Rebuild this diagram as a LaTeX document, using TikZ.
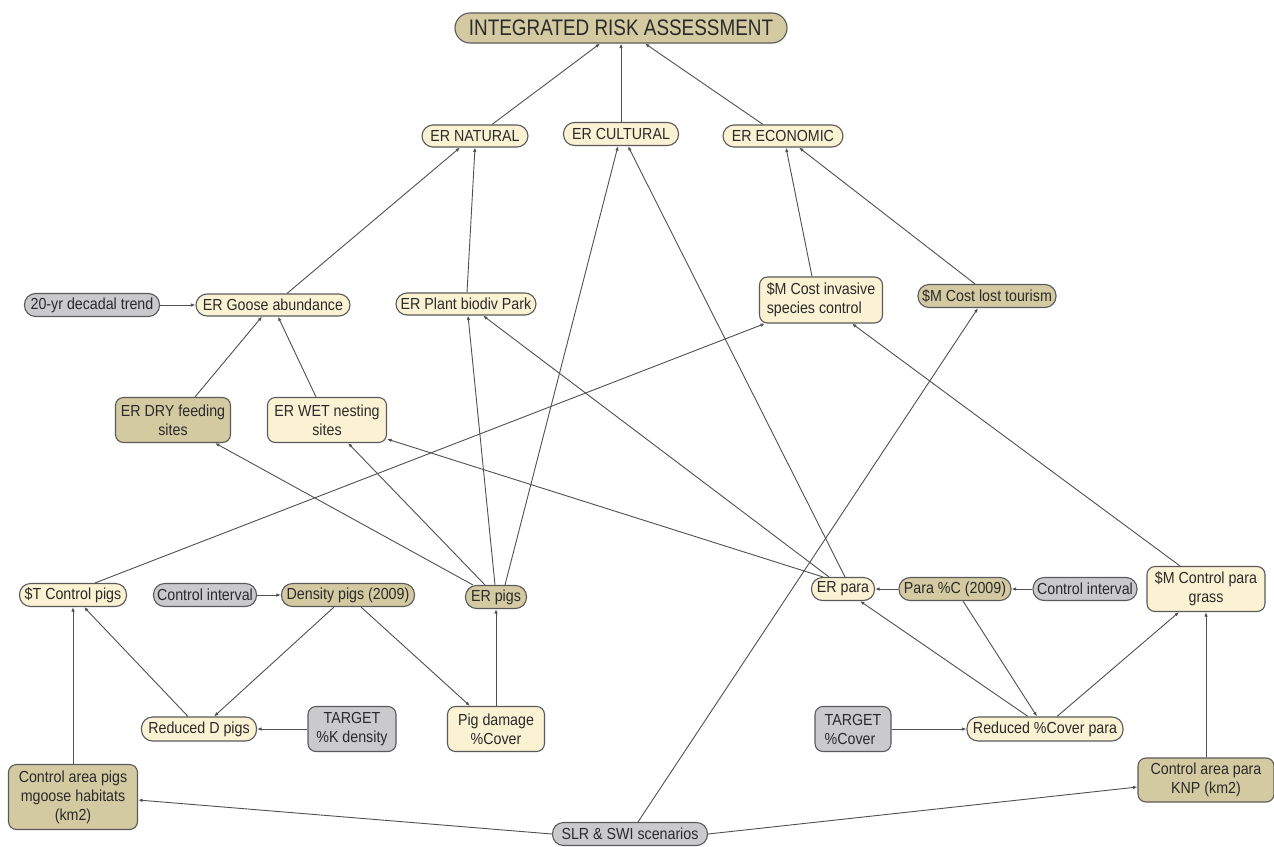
\documentclass[tikz,border=0pt]{standalone}
\usepackage{fontspec}
\setmainfont{Liberation Sans}[FakeStretch=0.89]
\newfontfamily\titlefont{Liberation Sans}[FakeStretch=0.84]
\usetikzlibrary{arrows.meta,backgrounds}

\definecolor{fillcream}{HTML}{FBF2D3}
\definecolor{filltan}{HTML}{D4CAA2}
\definecolor{fillgray}{HTML}{CACACC}
\definecolor{edgecol}{HTML}{505050}
\definecolor{bordercol}{HTML}{5A5A5A}
\definecolor{ink}{HTML}{2A2A2A}

\tikzset{
  box/.style={draw=bordercol, line width=1.1pt, text=ink, inner sep=0pt,
              font=\fontsize{16}{19}\selectfont, align=center},
  pill/.style={box, rounded corners=11pt},
  rbox/.style={box, rounded corners=8pt},
  cr/.style={fill=fillcream},
  tn/.style={fill=filltan},
  gy/.style={fill=fillgray},
  conn/.style={draw=edgecol, line width=0.9pt, -{Latex[length=4.5pt,width=3.5pt]}},
}

\begin{document}
\begin{tikzpicture}[x=1pt,y=-1pt]
\useasboundingbox (0,0) rectangle (1274,846);

% top level
\node[pill,tn,rounded corners=15pt,minimum width=332pt,minimum height=30pt,
      font=\titlefont\fontsize{22.5}{24}\selectfont] (ira) at (621,28) {INTEGRATED RISK ASSESSMENT};

% ecological risk categories
\node[pill,cr,minimum width=106pt,minimum height=22pt] (nat) at (475,136) {ER NATURAL};
\node[pill,cr,minimum width=115pt,minimum height=23pt] (cul) at (621,134) {ER CULTURAL};
\node[pill,cr,minimum width=120pt,minimum height=22pt] (eco) at (783,136) {ER ECONOMIC};

% second tier
\node[pill,gy,minimum width=135pt,minimum height=23pt] (trend) at (92,305) {20-yr decadal trend};
\node[pill,cr,minimum width=154pt,minimum height=22pt] (goose) at (273,305) {ER Goose abundance};
\node[pill,cr,minimum width=140pt,minimum height=22pt] (plant) at (466,304) {ER Plant biodiv Park};
\node[rbox,cr,minimum width=123pt,minimum height=46pt,align=left] (inv) at (821,300) {\$M Cost invasive\\species control};
\node[pill,tn,minimum width=138pt,minimum height=23pt] (tour) at (987,296) {\$M Cost lost tourism};

% goose habitat
\node[rbox,tn,minimum width=115pt,minimum height=45pt] (dry) at (173,420) {ER DRY feeding\\sites};
\node[rbox,cr,minimum width=119pt,minimum height=45pt] (wet) at (327,420) {ER WET nesting\\sites};

% pigs
\node[pill,cr,minimum width=107pt,minimum height=23pt] (tctrl) at (73,595) {\$T Control pigs};
\node[pill,gy,minimum width=103pt,minimum height=23pt] (ciL) at (205,595) {Control interval};
\node[pill,tn,minimum width=133pt,minimum height=23pt] (dens) at (348,595) {Density pigs (2009)};
\node[pill,tn,minimum width=61pt,minimum height=23pt] (erpigs) at (496,597) {ER pigs};
\node[pill,cr,minimum width=115pt,minimum height=24pt] (redD) at (199,729) {Reduced D pigs};
\node[rbox,gy,minimum width=88pt,minimum height=45pt] (tgtK) at (352,729) {TARGET\\\%K density};
\node[rbox,cr,minimum width=97pt,minimum height=45pt] (pig) at (496,729) {Pig damage\\\%Cover};
\node[rbox,tn,minimum width=129pt,minimum height=65pt] (cap) at (73,797) {Control area pigs\\mgoose habitats\\(km2)};

% para grass
\node[pill,cr,minimum width=63pt,minimum height=23pt] (erpara) at (843,589) {ER para};
\node[pill,tn,minimum width=112pt,minimum height=23pt] (parac) at (955,589) {Para \%C (2009)};
\node[pill,gy,minimum width=104pt,minimum height=23pt] (ciR) at (1085,589) {Control interval};
\node[rbox,cr,minimum width=118pt,minimum height=45pt] (mctrl) at (1206,589) {\$M Control para\\grass};
\node[rbox,gy,minimum width=76pt,minimum height=45pt,align=left] (tgtC) at (853,729) {TARGET\\\%Cover};
\node[pill,cr,minimum width=156pt,minimum height=24pt] (redC) at (1045,729) {Reduced \%Cover para};
\node[rbox,tn,minimum width=136pt,minimum height=44pt] (capara) at (1206,780) {Control area para\\KNP (km2)};

% scenarios
\node[pill,gy,minimum width=155pt,minimum height=23pt] (slr) at (630,834) {SLR \& SWI scenarios};

\begin{scope}[on background layer]
\fill[white] (0,0) rectangle (1274,846);

\draw[conn] ([xshift=17pt]nat.north) -- ([xshift=-21pt]ira.south);
\draw[conn] (cul.north) -- (ira.south);
\draw[conn] ([xshift=-20pt]eco.north) -- ([xshift=24pt]ira.south);

\draw[conn] ([xshift=14pt]goose.north) -- ([xshift=-15pt]nat.south);
\draw[conn] ([xshift=1pt]plant.north) -- (nat.south);
\draw[conn] ([xshift=-1pt]erpigs.north) -- ([xshift=2pt]plant.south);
\draw[conn] ([xshift=9pt]erpigs.north) -- ([xshift=-3pt]cul.south);
\draw[conn] ([xshift=2pt]erpara.north) -- ([xshift=7pt]cul.south);
\draw[conn] ([xshift=-14pt]erpara.north) -- ([xshift=17pt]plant.south);
\draw[conn] ([xshift=-9pt]inv.north) -- ([xshift=3pt]eco.south);
\draw[conn] ([xshift=-12pt]tour.north) -- ([xshift=16pt]eco.south);

\draw[conn] (trend.east) -- (goose.west);
\draw[conn] ([xshift=22pt]dry.north) -- ([xshift=-11pt]goose.south);
\draw[conn] ([xshift=-11pt]wet.north) -- ([xshift=5pt]goose.south);
\draw[conn] ([xshift=-23pt]erpigs.north) -- ([xshift=42pt]dry.south);
\draw[conn] ([xshift=-11pt]erpigs.north) -- ([xshift=21pt]wet.south);
\draw[conn] ([xshift=-20pt]erpara.north) -- ([yshift=4pt]wet.south east);

\draw[conn] ([xshift=22pt]tctrl.north) -- ([xshift=-56pt]inv.south);
\draw[conn] ([xshift=-26pt]mctrl.north) -- ([xshift=31pt]inv.south);
\draw[conn] ([xshift=8pt]slr.north) -- ([xshift=-9pt]tour.south);

\draw[conn] (ciL.east) -- (dens.west);
\draw[conn] ([xshift=-14pt]dens.south) -- ([xshift=15pt]redD.north);
\draw[conn] ([xshift=13pt]dens.south) -- ([xshift=-26pt]pig.north);
\draw[conn] ([xshift=-11pt]redD.north) -- ([xshift=11pt]tctrl.south);
\draw[conn] (tgtK.west) -- (redD.east);
\draw[conn] (pig.north) -- (erpigs.south);
\draw[conn] (cap.north) -- (tctrl.south);
\draw[conn] (slr.west) -- ([yshift=-3pt]cap.east);
\draw[conn] (slr.east) -- ([yshift=-7pt]capara.west);
\draw[conn] (capara.north) -- (mctrl.south);

\draw[conn] ([xshift=-17pt]redC.north) -- ([xshift=17pt]erpara.south);
\draw[conn] ([xshift=8pt]parac.south) -- ([xshift=-8pt]redC.north);
\draw[conn] ([xshift=12pt]redC.north) -- ([xshift=-27pt]mctrl.south);
\draw[conn] (parac.west) -- (erpara.east);
\draw[conn] (ciR.west) -- (parac.east);
\draw[conn] (tgtC.east) -- (redC.west);
\end{scope}
\end{tikzpicture}
\end{document}
